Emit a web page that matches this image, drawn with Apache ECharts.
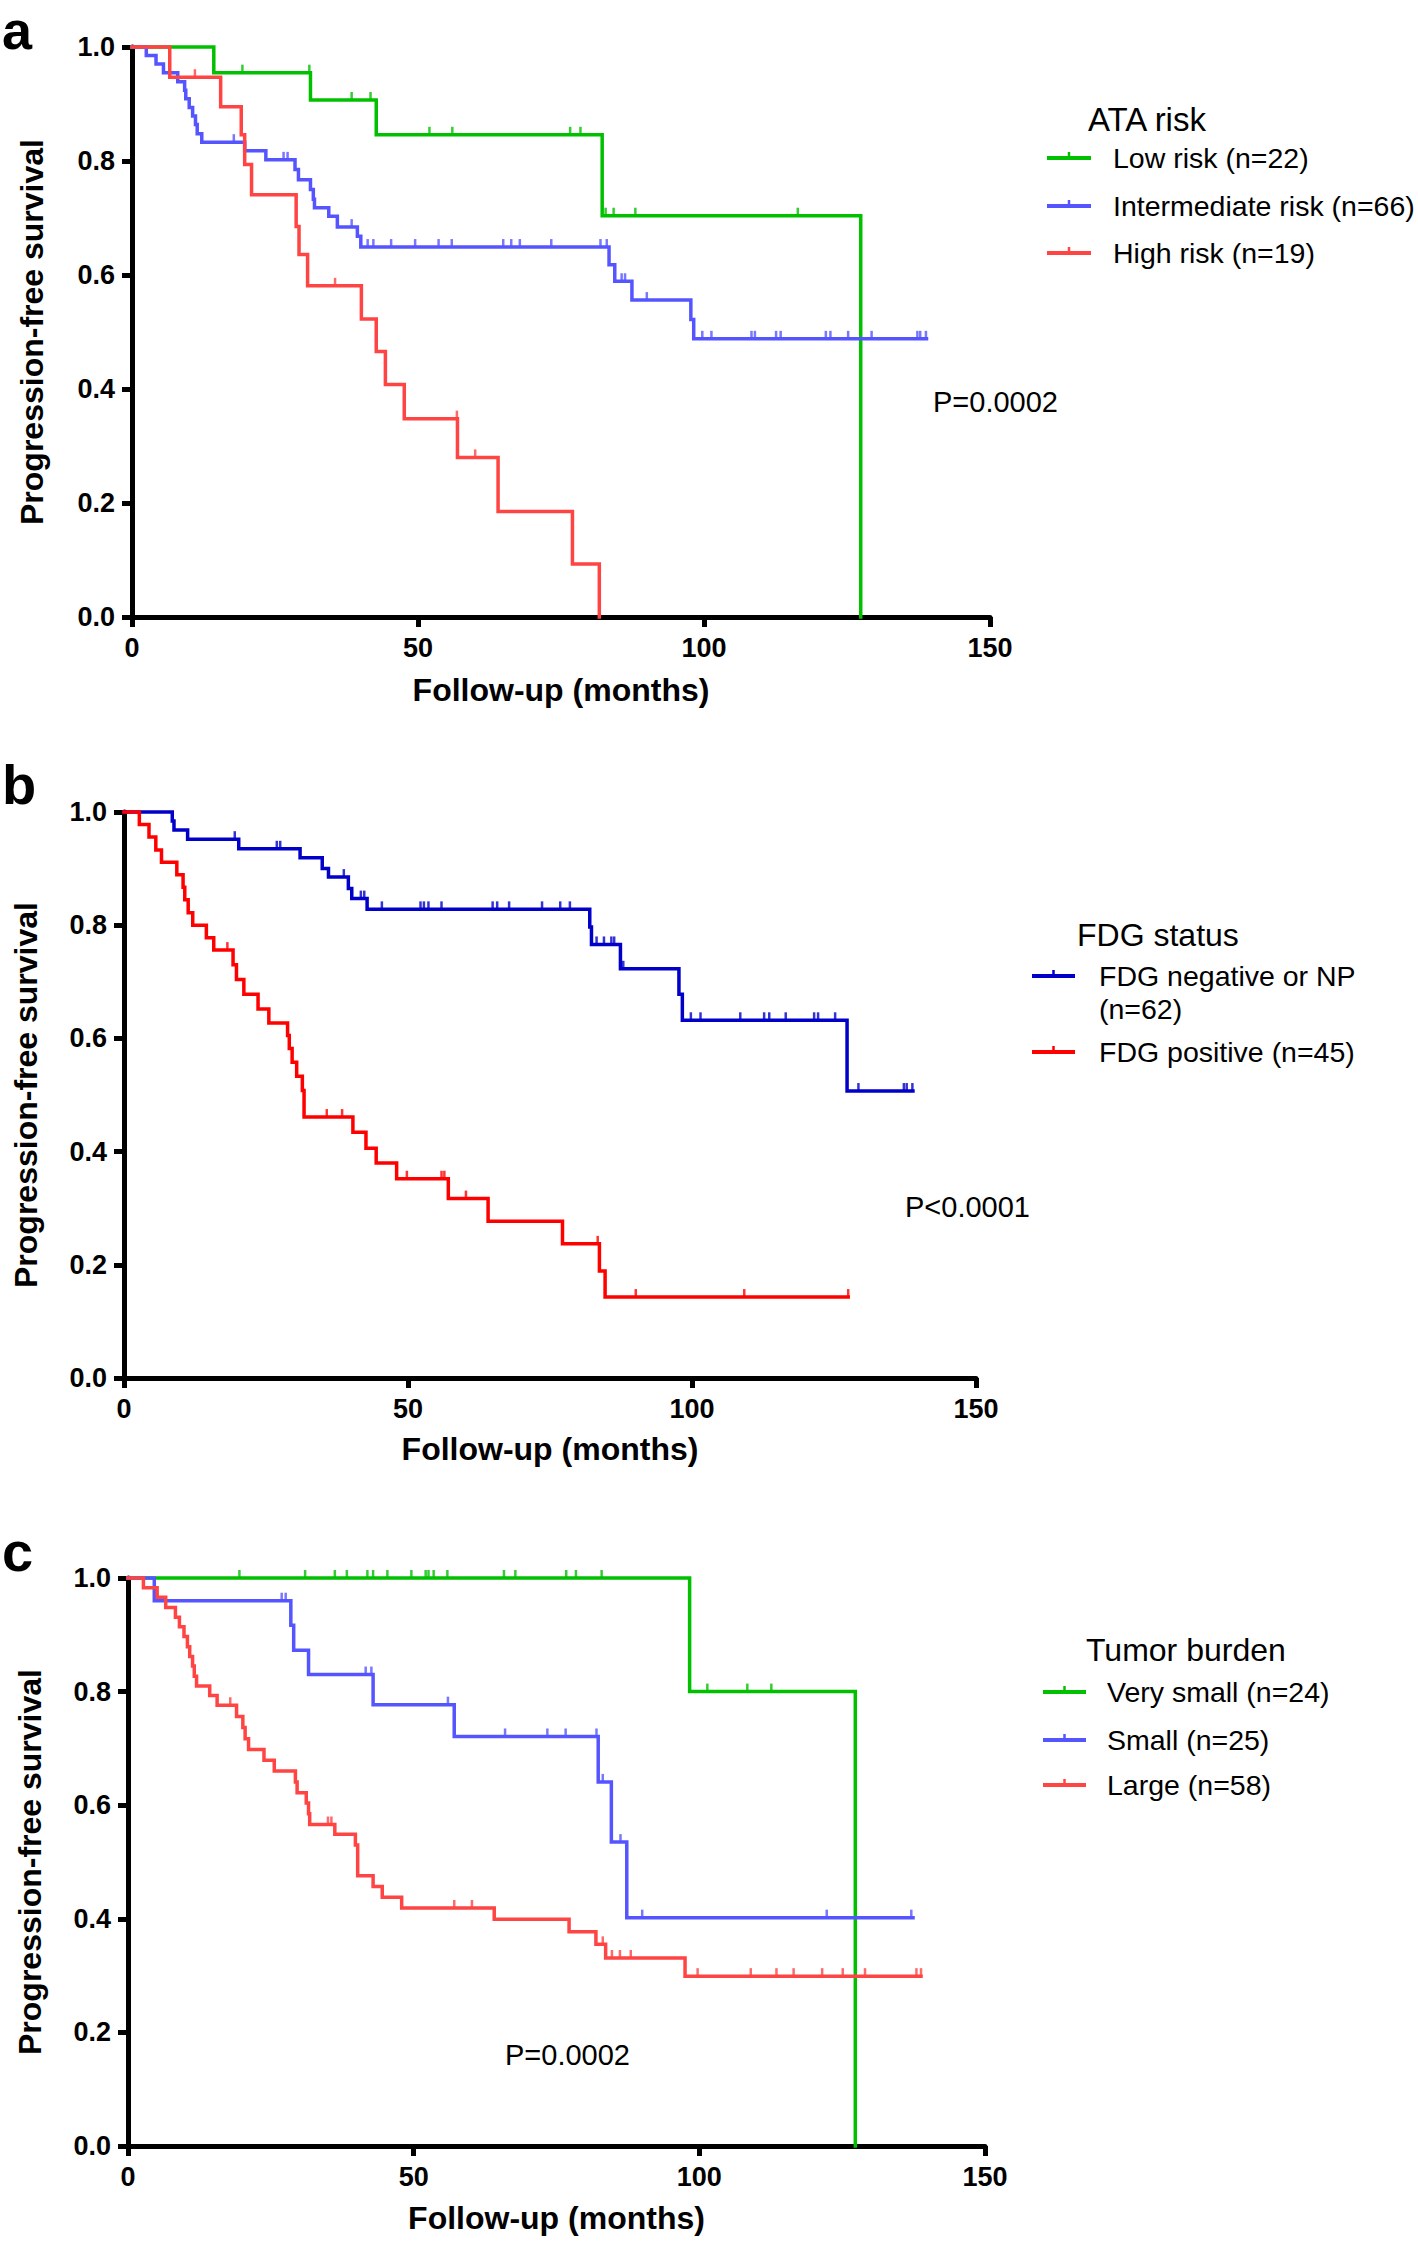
<!DOCTYPE html>
<html>
<head>
<meta charset="utf-8">
<script src="https://cdn.jsdelivr.net/npm/echarts@6/dist/echarts.min.js"></script>
<style>
html,body{margin:0;padding:0;background:#ffffff;}
#chart{width:1418px;height:2241px;}
</style>
</head>
<body>
<div id="chart"></div>
<script>
// ---------------- DATA ----------------
const xTickValues = [0, 50, 100, 150];
const yTickValues = [0.0, 0.2, 0.4, 0.6, 0.8, 1.0];

// Panel a : ATA risk
const aLowTime  = [0, 14.3, 31.2, 42.7, 82.2, 127.4];
const aLowSurv  = [1.0, 0.955, 0.907, 0.846, 0.704, 0.0];
const aLowCens  = [19.3, 31.0, 38.4, 41.7, 52.0, 56.0, 76.6, 78.4, 82.8, 84.2, 88.0, 116.4];

const aIntTime  = [0, 2.5, 4.2, 5.5, 8.0, 9.2, 9.4, 10.0, 10.6, 11.1, 11.4, 12.2, 19.7, 23.4, 28.5, 29.1, 31.2, 31.7, 31.9, 34.4, 35.9, 39.4, 40.0, 83.4, 84.4, 87.4, 97.7, 98.2, 138.9];
const aIntSurv  = [1.0, 0.985, 0.970, 0.955, 0.939, 0.924, 0.909, 0.894, 0.879, 0.864, 0.848, 0.833, 0.818, 0.802, 0.785, 0.767, 0.750, 0.733, 0.718, 0.703, 0.684, 0.668, 0.649, 0.618, 0.589, 0.556, 0.522, 0.488, 0.488];
const aIntCens  = [17.8, 26.5, 27.2, 38.4, 41.2, 42.2, 45.3, 49.5, 53.6, 55.9, 64.9, 66.3, 67.8, 73.3, 81.9, 83.0, 85.6, 86.2, 90.0, 99.7, 101.3, 108.3, 108.9, 112.6, 113.4, 121.3, 122.1, 125.2, 129.3, 137.3, 137.8, 138.8];

const aHighTime = [0, 6.6, 15.5, 19.1, 19.7, 20.9, 28.7, 29.2, 30.7, 40.1, 42.7, 44.3, 47.6, 56.9, 64.0, 77.0, 81.7];
const aHighSurv = [1.0, 0.947, 0.895, 0.846, 0.794, 0.741, 0.685, 0.636, 0.581, 0.523, 0.466, 0.408, 0.348, 0.280, 0.185, 0.093, 0.0];
const aHighCens = [11.0, 35.5, 56.8, 60.0];

// Panel b : FDG status
const bNegTime = [0, 8.5, 8.8, 11.2, 20.2, 31.0, 34.9, 36.0, 39.5, 40.1, 42.8, 82.0, 82.3, 87.4, 97.7, 98.3, 127.3, 138.9];
const bNegSurv = [1.0, 0.984, 0.968, 0.952, 0.935, 0.919, 0.900, 0.885, 0.865, 0.847, 0.828, 0.797, 0.766, 0.723, 0.678, 0.632, 0.507, 0.507];
const bNegCens = [19.5, 26.9, 27.5, 38.7, 41.7, 42.3, 45.4, 52.2, 52.8, 53.6, 55.9, 64.9, 65.7, 67.8, 73.6, 76.8, 78.5, 83.2, 84.5, 85.8, 86.3, 87.9, 99.8, 101.5, 108.5, 112.7, 113.6, 116.5, 121.5, 122.2, 125.2, 129.3, 137.3, 137.8, 138.8];

const bPosTime = [0, 2.7, 4.4, 5.6, 6.6, 9.3, 10.4, 10.7, 11.3, 12.1, 14.5, 15.8, 19.2, 19.8, 21.1, 23.6, 25.5, 28.8, 29.1, 29.6, 30.4, 31.4, 31.7, 40.3, 42.6, 44.4, 48.0, 57.1, 64.1, 77.2, 83.7, 84.7, 127.5];
const bPosSurv = [1.0, 0.978, 0.956, 0.933, 0.911, 0.889, 0.867, 0.845, 0.822, 0.800, 0.778, 0.756, 0.730, 0.704, 0.678, 0.652, 0.627, 0.605, 0.582, 0.558, 0.533, 0.508, 0.461, 0.434, 0.406, 0.380, 0.352, 0.317, 0.277, 0.237, 0.189, 0.143, 0.143];
const bPosCens = [18.2, 35.7, 38.4, 49.8, 55.9, 56.4, 60.2, 83.4, 90.1, 109.2, 127.5];

// Panel c : Tumor burden
const cVsTime = [0, 98.3, 127.3];
const cVsSurv = [1.0, 0.800, 0.0];
const cVsCens = [19.5, 31.0, 36.2, 38.3, 41.9, 42.9, 45.4, 49.6, 52.1, 52.6, 53.5, 55.9, 65.8, 67.8, 76.7, 78.4, 82.9, 101.4, 108.4, 112.6];

const cSmTime = [0, 4.6, 28.5, 29.0, 31.6, 42.9, 57.1, 82.3, 84.6, 87.3, 137.4];
const cSmSurv = [1.0, 0.960, 0.917, 0.873, 0.830, 0.777, 0.721, 0.641, 0.535, 0.402, 0.402];
const cSmCens = [26.9, 27.6, 41.6, 42.6, 56.0, 66.0, 73.4, 76.6, 82.0, 83.1, 86.2, 90.0, 122.3, 137.1];

const cLgTime = [0, 2.7, 5.1, 6.6, 8.3, 9.0, 9.8, 10.4, 10.8, 11.3, 11.6, 12.0, 14.3, 15.6, 19.0, 20.1, 20.5, 21.1, 23.8, 25.6, 29.3, 29.6, 31.2, 31.6, 31.8, 36.2, 39.8, 40.2, 42.9, 44.5, 47.9, 64.1, 77.2, 81.9, 83.6, 97.5, 138.8];
const cLgSurv = [1.0, 0.983, 0.966, 0.948, 0.931, 0.914, 0.897, 0.879, 0.862, 0.845, 0.827, 0.810, 0.793, 0.776, 0.756, 0.737, 0.717, 0.698, 0.679, 0.660, 0.641, 0.622, 0.604, 0.585, 0.566, 0.549, 0.530, 0.476, 0.457, 0.438, 0.419, 0.399, 0.377, 0.355, 0.331, 0.299, 0.299];
const cLgCens = [17.9, 35.0, 35.6, 57.1, 60.2, 83.1, 84.7, 86.1, 88.0, 99.7, 109.0, 113.5, 116.5, 121.5, 125.1, 129.0, 138.0, 138.8];

// Texts
const panelLetters = ['a', 'b', 'c'];
const legendTitles = ['ATA risk', 'FDG status', 'Tumor burden'];
const pValues = ['P=0.0002', 'P<0.0001', 'P=0.0002'];
const xAxisTitle = 'Follow-up (months)';
const yAxisTitle = 'Progression-free survival';

// ---------------- STYLE / LAYOUT ----------------
const FONT = '"Liberation Sans", Arial, Helvetica, sans-serif';
const GREEN = '#00C000', LBLUE = '#5555FF', LRED = '#FF4444', DBLUE = '#0000C8', RED = '#FF0000';

const panels = [
  { grid: { left: 132, top: 47, width: 858, height: 570 }, xNameGap: 57, yNameGap: 84,
    curves: [
      { name: 'Low risk (n=22)', color: GREEN, t: aLowTime, s: aLowSurv, c: aLowCens, label: ['Low risk (n=22)'] },
      { name: 'Intermediate risk (n=66)', color: LBLUE, t: aIntTime, s: aIntSurv, c: aIntCens, label: ['Intermediate risk (n=66)'] },
      { name: 'High risk (n=19)', color: LRED, t: aHighTime, s: aHighSurv, c: aHighCens, label: ['High risk (n=19)'] }
    ],
    letter: { x: 2, y: 30, size: 54 }, ltitle: { x: 1088, y: 119, size: 33 }, lline: [1047, 1091], ltext: 1113, litemY: [158, 206, 253], p: { x: 933, y: 402 } },
  { grid: { left: 124, top: 812, width: 852, height: 566 }, xNameGap: 55, yNameGap: 82,
    curves: [
      { name: 'FDG negative or NP (n=62)', color: DBLUE, t: bNegTime, s: bNegSurv, c: bNegCens, label: ['FDG negative or NP', '(n=62)'] },
      { name: 'FDG positive (n=45)', color: RED, t: bPosTime, s: bPosSurv, c: bPosCens, label: ['FDG positive (n=45)'] }
    ],
    letter: { x: 2, y: 784, size: 56 }, ltitle: { x: 1077, y: 935, size: 32 }, lline: [1032, 1075], ltext: 1099, litemY: [976, 1052], p: { x: 905, y: 1207 } },
  { grid: { left: 128, top: 1578, width: 857, height: 568 }, xNameGap: 56, yNameGap: 82,
    curves: [
      { name: 'Very small (n=24)', color: GREEN, t: cVsTime, s: cVsSurv, c: cVsCens, label: ['Very small (n=24)'] },
      { name: 'Small (n=25)', color: LBLUE, t: cSmTime, s: cSmSurv, c: cSmCens, label: ['Small (n=25)'] },
      { name: 'Large (n=58)', color: LRED, t: cLgTime, s: cLgSurv, c: cLgCens, label: ['Large (n=58)'] }
    ],
    letter: { x: 2, y: 1551, size: 56 }, ltitle: { x: 1086, y: 1650, size: 32 }, lline: [1043, 1086], ltext: 1107, litemY: [1692, 1740, 1785], p: { x: 505, y: 2055 } }
];

function levelAt(times, surv, t) {
  let s = surv[0];
  for (let i = 0; i < times.length; i++) { if (times[i] <= t) s = surv[i]; }
  return s;
}

const grids = [], xAxes = [], yAxes = [], series = [], graphics = [];
const axisLineStyle = { color: '#000', width: 5 };
const tickLabelStyle = { fontSize: 27, fontWeight: 'bold', color: '#000', fontFamily: FONT };
const axisNameStyle = { fontSize: 32, fontWeight: 'bold', color: '#000', fontFamily: FONT };

function txt(x, y, text, size, weight) {
  return { type: 'text', x: x, y: y, silent: true,
    style: { text: text, fill: '#000', fontSize: size, fontWeight: weight || 'normal', fontFamily: FONT,
      align: 'left', verticalAlign: 'middle', textAlign: 'left', textVerticalAlign: 'middle' } };
}

panels.forEach((p, i) => {
  grids.push(Object.assign({ outerBoundsMode: 'none', containLabel: false }, p.grid));
  xAxes.push({
    gridIndex: i, type: 'value', min: xTickValues[0], max: xTickValues[xTickValues.length - 1],
    interval: xTickValues[1] - xTickValues[0],
    axisLine: { show: true, onZero: false, lineStyle: axisLineStyle },
    axisTick: { show: true, length: 10, lineStyle: { color: '#000', width: 5 } },
    axisLabel: Object.assign({ margin: 17 }, tickLabelStyle),
    splitLine: { show: false },
    name: xAxisTitle, nameLocation: 'middle', nameGap: p.xNameGap, nameTextStyle: axisNameStyle
  });
  yAxes.push({
    gridIndex: i, type: 'value', min: yTickValues[0], max: yTickValues[yTickValues.length - 1],
    interval: yTickValues[1] - yTickValues[0],
    axisLine: { show: true, onZero: false, lineStyle: axisLineStyle },
    axisTick: { show: true, length: 10, lineStyle: { color: '#000', width: 5 } },
    axisLabel: Object.assign({ margin: 17, formatter: v => v.toFixed(1) }, tickLabelStyle),
    splitLine: { show: false },
    name: yAxisTitle, nameLocation: 'middle', nameGap: p.yNameGap, nameTextStyle: axisNameStyle
  });

  p.curves.forEach((cv, k) => {
    series.push({
      type: 'line', name: cv.name, xAxisIndex: i, yAxisIndex: i, step: 'end', clip: false,
      showSymbol: false, symbol: 'none', silent: true, animation: false, z: 2 + k,
      lineStyle: { color: cv.color, width: 3.5, cap: 'square', join: 'miter' }, itemStyle: { color: cv.color },
      data: cv.t.map((t, j) => [t, cv.s[j]])
    });
    series.push({
      type: 'scatter', name: cv.name, xAxisIndex: i, yAxisIndex: i, clip: false, silent: true,
      animation: false, z: 2 + k, symbol: 'rect', symbolSize: [2.5, 8], symbolOffset: [0, -4],
      itemStyle: { color: cv.color },
      data: cv.c.map(t => [t, levelAt(cv.t, cv.s, t)])
    });
    // legend entry
    const ly = p.litemY[k];
    graphics.push({ type: 'line', silent: true,
      shape: { x1: p.lline[0], y1: ly, x2: p.lline[1], y2: ly }, style: { stroke: cv.color, lineWidth: 4 } });
    graphics.push({ type: 'rect', silent: true,
      shape: { x: (p.lline[0] + p.lline[1]) / 2 - 1.25, y: ly - 6, width: 2.5, height: 6 }, style: { fill: cv.color } });
    cv.label.forEach((line, m) => graphics.push(txt(p.ltext, ly + m * 33, line, 28.5)));
  });

  graphics.push(txt(p.letter.x, p.letter.y, panelLetters[i], p.letter.size, 'bold'));
  graphics.push(txt(p.ltitle.x, p.ltitle.y, legendTitles[i], p.ltitle.size));
  graphics.push(txt(p.p.x, p.p.y, pValues[i], 29));
});

const chart = echarts.init(document.getElementById('chart'), null, { renderer: 'svg', width: 1418, height: 2241 });
chart.setOption({
  animation: false,
  backgroundColor: '#ffffff',
  textStyle: { fontFamily: FONT },
  grid: grids,
  xAxis: xAxes,
  yAxis: yAxes,
  series: series,
  graphic: { elements: graphics }
});
</script>
</body>
</html>
